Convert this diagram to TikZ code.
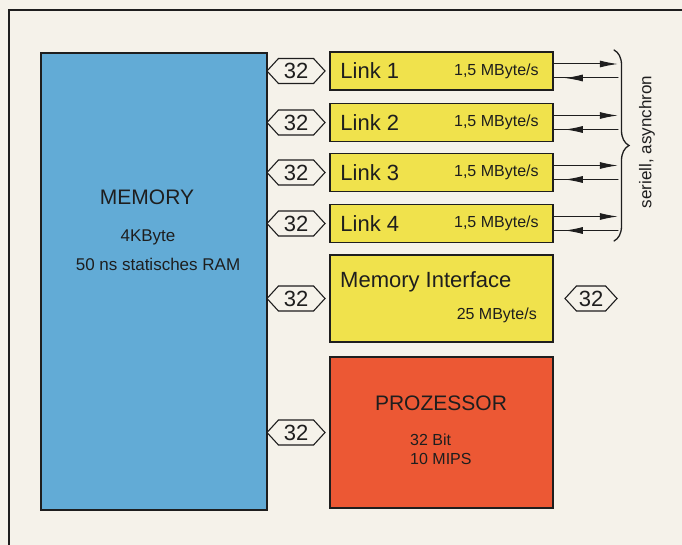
\documentclass[tikz,border=0pt]{standalone}
\usepackage{fontspec}
\setmainfont{Liberation Sans}
\usetikzlibrary{shapes.symbols, decorations.pathreplacing, arrows.meta}
\definecolor{papier}{RGB}{245,242,234}
\definecolor{memblau}{RGB}{98,171,214}
\definecolor{linkgelb}{RGB}{240,226,76}
\definecolor{prozrot}{RGB}{236,88,52}
\definecolor{strich}{RGB}{30,30,30}
\newcommand{\fs}[1]{\fontsize{#1}{#1}\selectfont}

\begin{document}
\begin{tikzpicture}[x=1pt,y=-1pt,line cap=round,
    block/.style={draw=strich, line width=1.6pt, rectangle, inner sep=0pt},
    linkbox/.style={block, fill=linkgelb, minimum width=223pt, minimum height=38pt},
    bus/.style={draw=strich, line width=1.1pt, shape=signal, signal to=east and west,
      signal pointer angle=95, fill=papier, minimum width=58pt, minimum height=25pt,
      inner sep=1pt, text=strich, font=\fs{22}},
    pfeil/.style={draw=strich, line width=1pt, -{Latex[length=18pt,width=7pt]}},
    txt/.style={inner sep=0pt, text=strich}]
    % papier und rahmen
    \fill[papier] (0,0) rectangle (682,545);
    \useasboundingbox (0,0) rectangle (682,545);
    \draw[strich, line width=1.5pt] (682,10) -- (9,10) -- (9,545);

    % memory
    \node[block, fill=memblau, minimum width=226pt, minimum height=457pt] (mem) at (154,281.5) {};
    \node[txt, font=\fs{21}] (memname) at (147,197) {MEMORY};
    \node[txt, font=\fs{17}] (memsize) at (148,237) {4KByte};
    \node[txt, font=\fs{17}] (memtyp) at (158,264) {50 ns statisches RAM};

    % links
    \node[linkbox] (l1) at (441.5,71) {};
    \node[linkbox] (l2) at (441.5,122.5) {};
    \node[linkbox] (l3) at (441.5,172.5) {};
    \node[linkbox] (l4) at (441.5,223.5) {};
    \node[txt, anchor=west, font=\fs{22}] (l1name) at ([xshift=11pt]l1.west) {Link 1};
    \node[txt, anchor=west, font=\fs{22}] (l2name) at ([xshift=11pt]l2.west) {Link 2};
    \node[txt, anchor=west, font=\fs{22}] (l3name) at ([xshift=11pt]l3.west) {Link 3};
    \node[txt, anchor=west, font=\fs{22}] (l4name) at ([xshift=11pt]l4.west) {Link 4};
    \node[txt, anchor=east, font=\fs{16}] (l1rate) at ([xshift=-15pt]l1.east) {1,5 MByte/s};
    \node[txt, anchor=east, font=\fs{16}] (l2rate) at ([xshift=-15pt]l2.east) {1,5 MByte/s};
    \node[txt, anchor=east, font=\fs{16}] (l3rate) at ([xshift=-15pt]l3.east) {1,5 MByte/s};
    \node[txt, anchor=east, font=\fs{16}] (l4rate) at ([xshift=-15pt]l4.east) {1,5 MByte/s};

    % memory interface
    \node[block, fill=linkgelb, minimum width=223pt, minimum height=87pt] (mi) at (441.5,298.5) {};
    \node[txt, anchor=west, font=\fs{22}] (miname) at (340,282) {Memory Interface};
    \node[txt, anchor=east, font=\fs{16}] (mirate) at (537,315) {25 MByte/s};

    % prozessor
    \node[block, fill=prozrot, minimum width=223pt, minimum height=151pt] (cpu) at (441.5,432.5) {};
    \node[txt, font=\fs{21}] (cpuname) at (441,403) {PROZESSOR};
    \node[txt, anchor=west, font=\fs{16}] (cpubit) at (410,440) {32 Bit};
    \node[txt, anchor=west, font=\fs{16}] (cpumips) at (410,459) {10 MIPS};

    % busse 32
    \node[bus] (b1) at (296,71) {32};
    \node[bus] (b2) at (296,122.5) {32};
    \node[bus] (b3) at (296,172.5) {32};
    \node[bus] (b4) at (296,223.5) {32};
    \node[bus] (b5) at (296,298.5) {32};
    \node[bus] (b6) at (296,432.5) {32};
    \node[bus, minimum width=52pt] (bext) at (591,298.5) {32};

    % serielle leitungen
    \draw[pfeil] ([yshift=7pt]l1.east) -- ++(64,0);
    \draw[strich, line width=1pt] ([yshift=-7pt]l1.east) -- ++(64,0) coordinate (r1);
    \draw[pfeil] (r1) -- ++(-53,0);
    \draw[pfeil] ([yshift=7pt]l2.east) -- ++(64,0);
    \draw[strich, line width=1pt] ([yshift=-7pt]l2.east) -- ++(64,0) coordinate (r2);
    \draw[pfeil] (r2) -- ++(-53,0);
    \draw[pfeil] ([yshift=7pt]l3.east) -- ++(64,0);
    \draw[strich, line width=1pt] ([yshift=-7pt]l3.east) -- ++(64,0) coordinate (r3);
    \draw[pfeil] (r3) -- ++(-53,0);
    \draw[pfeil] ([yshift=7pt]l4.east) -- ++(64,0);
    \draw[strich, line width=1pt] ([yshift=-7pt]l4.east) -- ++(64,0) coordinate (r4);
    \draw[pfeil] (r4) -- ++(-53,0);

    % klammer
    \draw[strich, line width=1.3pt, decorate, decoration={brace, amplitude=15pt}] (614,50) -- (614,241);
    \node[txt, rotate=90, font=\fs{17}] (seriell) at (647,142) {seriell, asynchron};
\end{tikzpicture}
\end{document}
